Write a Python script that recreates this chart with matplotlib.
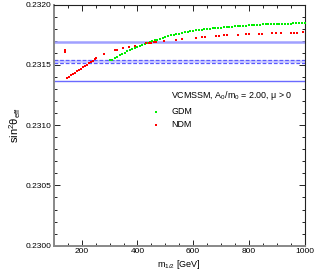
import matplotlib
matplotlib.use("Agg")
import matplotlib.pyplot as plt
from matplotlib.ticker import MultipleLocator, FormatStrFormatter

plt.rcParams['font.family'] = ['Liberation Sans', 'DejaVu Sans']
plt.rcParams['mathtext.fontset'] = 'custom'
plt.rcParams['mathtext.rm'] = 'Liberation Sans'
plt.rcParams['mathtext.it'] = 'Liberation Sans'

# ---- data ----
gdm_m12 = [300, 310, 318, 327, 336, 345, 354, 363, 372, 381, 390, 399, 408, 417,
           426, 435, 444, 453, 462, 471, 480, 490, 500, 510, 520, 530, 540, 550,
           560, 570, 580, 590, 600, 610, 620, 630, 640, 650, 660, 670, 680, 690,
           700, 710, 720, 730, 740, 750, 760, 770, 780, 790, 800, 810, 820, 830,
           840, 850, 860, 870, 880, 890, 900, 910, 920, 930, 940, 950, 960, 970,
           980, 990, 1000]
gdm_s2w = [0.231545, 0.231537, 0.231556, 0.231568, 0.231580, 0.231592, 0.231602,
           0.231612, 0.231623, 0.231633, 0.231643, 0.231652, 0.231660, 0.231668,
           0.231676, 0.231683, 0.231689, 0.231696, 0.231703, 0.231710, 0.231717,
           0.231724, 0.231731, 0.231738, 0.231745, 0.231751, 0.231756, 0.231761,
           0.231766, 0.231770, 0.231774, 0.231778, 0.231782, 0.231786, 0.231789,
           0.231792, 0.231795, 0.231798, 0.231801, 0.231803, 0.231806, 0.231808,
           0.231810, 0.231812, 0.231814, 0.231816, 0.231818, 0.231820, 0.231822,
           0.231824, 0.231825, 0.231827, 0.231829, 0.231830, 0.231832, 0.231833,
           0.231834, 0.231836, 0.231837, 0.231838, 0.231839, 0.231840, 0.231841,
           0.231842, 0.231842, 0.231843, 0.231844, 0.231844, 0.231845, 0.231845,
           0.231846, 0.231846, 0.231847]

ndm_m12 = [140, 140, 148, 155, 162, 169, 176, 183, 190, 197, 204, 211, 218, 225,
           232, 239, 246, 252, 280, 320, 328, 349, 371, 392, 431, 440, 449, 459,
           468, 497, 539, 561, 610, 632, 641, 683, 693, 712, 722, 761, 791, 802,
           835, 847, 885, 896, 914, 950, 961, 974, 995]
ndm_s2w = [0.231620, 0.231605, 0.231392, 0.231402, 0.231413, 0.231424, 0.231435,
           0.231446, 0.231458, 0.231469, 0.231480, 0.231492, 0.231503, 0.231514,
           0.231525, 0.231536, 0.231547, 0.231556, 0.231588, 0.231620, 0.231621,
           0.231638, 0.231647, 0.231657, 0.231680, 0.231682, 0.231685, 0.231688,
           0.231690, 0.231701, 0.231710, 0.231714, 0.231720, 0.231728, 0.231730,
           0.231740, 0.231741, 0.231746, 0.231749, 0.231750, 0.231754, 0.231756,
           0.231760, 0.231761, 0.231764, 0.231765, 0.231766, 0.231767, 0.231768,
           0.231769, 0.231776]

band_lo, band_hi = 0.231514, 0.231544
upper_line = 0.23169
lower_line = 0.231370

fig = plt.figure(figsize=(3.15, 2.72), dpi=100)
ax = fig.add_axes([0.1714, 0.0967, 0.7953, 0.886])

# reference lines
ax.axhspan(band_lo, band_hi, color='#d0d0ff', lw=0, zorder=1)
ax.axhline(band_lo, color='#5a5aff', lw=0.9, ls=(0, (3, 1.5)), zorder=2)
ax.axhline(band_hi, color='#5a5aff', lw=0.9, ls=(0, (3, 1.5)), zorder=2)
ax.axhline(upper_line, color='#a0a0ff', lw=1.8, zorder=2)
ax.axhline(lower_line, color='#6a6aff', lw=1.0, zorder=2)

ax.plot(gdm_m12, gdm_s2w, 's', color='#00ee00', ms=1.9, mew=0, ls='none', zorder=3)
ax.plot(ndm_m12, ndm_s2w, 's', color='#ff0000', ms=2.0, mew=0, ls='none', zorder=4)

# legend drawn by hand, like the original
ax.text(521, 0.231245, r'VCMSSM, A$_0$/m$_0$ = 2.00, $\mu$ > 0', fontsize=6.4,
        va='center', ha='left', zorder=5)
ax.plot([466], [0.231112], 's', color='#00ee00', ms=1.9, mew=0, zorder=5)
ax.text(521, 0.231112, 'GDM', fontsize=6.4, va='center', ha='left')
ax.plot([466], [0.231004], 's', color='#ff0000', ms=2.0, mew=0, zorder=5)
ax.text(521, 0.231004, 'NDM', fontsize=6.4, va='center', ha='left')

ax.set_xlim(100, 1000)
ax.set_ylim(0.2300, 0.2320)
ax.xaxis.set_major_locator(MultipleLocator(200))
ax.xaxis.set_minor_locator(MultipleLocator(50))
ax.yaxis.set_major_locator(MultipleLocator(0.0005))
ax.yaxis.set_minor_locator(MultipleLocator(0.0001))
ax.yaxis.set_major_formatter(FormatStrFormatter('%.4f'))

ax.tick_params(which='both', direction='in', top=True, right=True,
               labelsize=6, width=0.6, pad=2)
ax.tick_params(which='major', length=4)
ax.tick_params(which='minor', length=2)

for side in ('left', 'bottom'):
    ax.spines[side].set_color('#888888')
    ax.spines[side].set_linewidth(1.4)
for side in ('top', 'right'):
    ax.spines[side].set_color('#222222')
    ax.spines[side].set_linewidth(0.8)

ax.set_xlabel(r'm$_{1/2}$ [GeV]', fontsize=6.5, labelpad=2)
ax.set_ylabel(r'sin$^2\theta_{\mathrm{eff}}$', fontsize=8, labelpad=2)

fig.savefig('out.png', dpi=100)
